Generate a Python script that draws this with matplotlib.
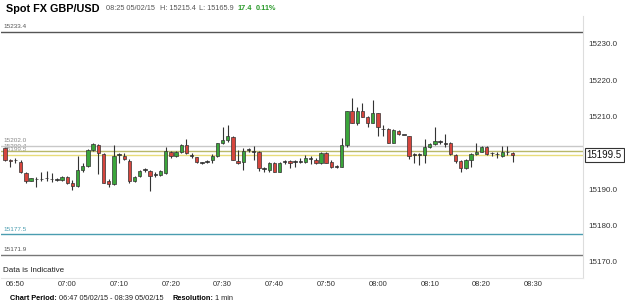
import matplotlib
matplotlib.use("Agg")
import matplotlib.pyplot as plt
import numpy as np

plt.rcParams["font.family"] = ["Liberation Sans", "DejaVu Sans"]

# one-minute candles, first bar at 06:48
start_minute = 6 * 60 + 48
opens = [15201.2, 15197.9, 15197.9, 15197.6, 15194.4, 15192.3, 15192.7, 15192.7, 15193.0, 15192.7,
         15192.5, 15192.5, 15193.3, 15191.8, 15190.9, 15195.3, 15196.4, 15200.8, 15202.1, 15199.6,
         15192.1, 15191.3, 15199.4, 15199.1, 15197.8, 15192.3, 15193.6, 15195.3, 15195.0, 15193.9,
         15193.9, 15194.4, 15200.3, 15199.2, 15200.2, 15202.2, 15199.2, 15198.8, 15197.3, 15197.6,
         15197.9, 15199.2, 15202.6, 15203.4, 15204.3, 15197.8, 15197.6, 15200.8, 15200.3, 15200.3,
         15195.6, 15195.3, 15197.3, 15194.8, 15197.6, 15197.8, 15197.6, 15197.6, 15197.6, 15198.3,
         15198.0, 15197.1, 15199.9, 15197.6, 15196.2, 15196.2, 15202.2, 15211.6, 15208.1, 15211.4,
         15210.0, 15208.3, 15211.1, 15206.5, 15206.5, 15202.8, 15206.1, 15204.9, 15204.5, 15199.4,
         15199.4, 15199.4, 15201.5, 15202.4, 15203.1, 15202.4, 15202.6, 15199.4, 15197.8, 15195.7,
         15197.9, 15199.7, 15200.3, 15201.5, 15199.9, 15199.6, 15199.1, 15200.1, 15199.9]
highs = [15201.3, 15198.2, 15198.5, 15197.9, 15194.8, 15193.1, 15193.2, 15194.8, 15195.1, 15194.4,
         15193.0, 15193.6, 15193.5, 15192.5, 15199.0, 15197.1, 15201.0, 15202.8, 15202.3, 15199.9,
         15192.7, 15202.2, 15199.9, 15199.9, 15198.2, 15193.6, 15195.3, 15195.7, 15195.3, 15194.6,
         15195.3, 15201.7, 15200.5, 15200.5, 15202.4, 15203.7, 15199.9, 15198.9, 15197.6, 15198.0,
         15199.6, 15202.8, 15207.2, 15207.7, 15204.5, 15200.8, 15201.3, 15201.3, 15201.9, 15200.5,
         15196.0, 15197.6, 15197.6, 15197.6, 15197.9, 15198.0, 15197.9, 15198.5, 15199.4, 15199.1,
         15198.5, 15200.3, 15200.3, 15198.0, 15196.7, 15204.0, 15211.6, 15215.0, 15212.7, 15213.7,
         15210.2, 15214.6, 15211.1, 15207.7, 15206.8, 15206.5, 15206.3, 15205.0, 15204.7, 15199.9,
         15199.9, 15203.7, 15202.8, 15207.2, 15203.5, 15205.2, 15203.1, 15199.6, 15198.0, 15198.2,
         15199.9, 15202.6, 15201.9, 15201.9, 15200.1, 15200.1, 15201.9, 15201.9, 15200.1]
lows = [15197.8, 15196.2, 15197.1, 15194.4, 15191.6, 15192.2, 15190.5, 15192.1, 15192.1, 15191.9,
        15192.1, 15192.3, 15191.4, 15189.8, 15190.7, 15194.8, 15196.2, 15200.6, 15194.2, 15191.6,
        15190.7, 15191.2, 15197.1, 15198.0, 15191.8, 15192.0, 15193.4, 15194.8, 15189.5, 15193.3,
        15193.7, 15194.1, 15198.5, 15198.9, 15199.9, 15199.6, 15198.7, 15197.2, 15196.8, 15197.1,
        15197.1, 15198.9, 15202.4, 15203.1, 15197.9, 15196.8, 15195.3, 15200.3, 15198.0, 15195.0,
        15194.8, 15194.8, 15194.6, 15194.6, 15196.9, 15195.7, 15196.0, 15197.1, 15197.3, 15196.9,
        15196.9, 15196.9, 15197.1, 15195.7, 15195.7, 15196.0, 15201.7, 15208.1, 15207.7, 15209.8,
        15207.2, 15208.1, 15204.7, 15204.7, 15202.6, 15202.6, 15204.9, 15204.8, 15198.2, 15197.1,
        15196.7, 15197.3, 15201.3, 15202.2, 15202.4, 15201.7, 15199.4, 15197.3, 15194.8, 15195.5,
        15196.2, 15199.4, 15200.1, 15199.4, 15199.1, 15198.5, 15198.9, 15199.4, 15197.6]
closes = [15198.0, 15197.8, 15197.9, 15194.6, 15192.3, 15193.0, 15192.7, 15192.7, 15193.0, 15192.7,
          15192.5, 15193.3, 15191.6, 15190.9, 15195.3, 15196.4, 15200.8, 15202.4, 15199.9, 15191.8,
          15191.4, 15199.0, 15199.4, 15198.2, 15192.1, 15193.4, 15195.0, 15195.3, 15193.6, 15193.9,
          15195.0, 15200.5, 15199.2, 15200.2, 15202.2, 15199.9, 15199.2, 15197.4, 15197.3, 15197.6,
          15199.2, 15202.6, 15203.4, 15204.5, 15198.0, 15197.1, 15200.5, 15200.8, 15200.3, 15195.7,
          15195.6, 15197.3, 15194.8, 15197.3, 15197.6, 15197.1, 15197.6, 15197.6, 15198.5, 15198.3,
          15197.1, 15199.9, 15197.3, 15196.0, 15196.2, 15202.2, 15211.4, 15208.3, 15211.4, 15210.0,
          15208.3, 15211.1, 15207.2, 15206.5, 15202.8, 15206.3, 15205.2, 15204.9, 15199.1, 15199.4,
          15199.4, 15201.5, 15202.4, 15203.3, 15203.1, 15202.4, 15199.6, 15197.8, 15195.7, 15197.9,
          15199.7, 15200.3, 15201.7, 15199.6, 15199.9, 15199.6, 15200.3, 15200.1, 15199.5]

# reference levels drawn across the chart
level_values = [15233.4, 15202.0, 15200.4, 15199.5, 15177.5, 15171.9]
level_colors = ["#555555", "#c8c8c8", "#b8b86a", "#e8dc7a", "#4a9db0", "#777777"]
level_text_colors = ["#555555", "#888888", "#888888", "#999999", "#4a9db0", "#555555"]

y_ticks = [15170.0, 15180.0, 15190.0, 15210.0, 15220.0, 15230.0]
x_tick_labels = ["06:50", "07:00", "07:10", "07:20", "07:30", "07:40", "07:50",
                 "08:00", "08:10", "08:20", "08:30"]
last_price = 15199.5

W, H = 625, 306


def px(x, y):
    return x / W, 1 - y / H


fig = plt.figure(figsize=(W / 100, H / 100), dpi=100)
ax = fig.add_axes([1 / W, (H - 278) / H, 582 / W, (278 - 16) / H])

t = np.arange(len(opens)) + start_minute
o = np.array(opens)
c = np.array(closes)
up = c > o
flat = c == o
body_col = np.where(up, "#3aa53a", "#d6453d")
body_col = np.where(flat, "#222222", body_col)
bottoms = np.minimum(o, c)
heights = np.maximum(np.abs(c - o), 0.18)

ax.vlines(t, lows, highs, color="#333333", lw=0.8, zorder=3)
ax.bar(t, heights, bottom=bottoms, width=0.65, color=body_col,
       edgecolor="#333333", linewidth=0.5, zorder=4)

for v, col, tc in zip(level_values, level_colors, level_text_colors):
    ax.axhline(v, color=col, lw=1.0, zorder=2)
    ax.text(407.6, v + 0.7, f"{v:.1f}", fontsize=4.6, color=tc, va="bottom", zorder=1)

ax.text(407.6, 15167.2, "Data is Indicative", fontsize=5.8, color="#222222")

ax.set_xlim(407.2, 519.6)
ax.set_ylim(15165.5, 15237.7)

ax.yaxis.tick_right()
ax.set_yticks(y_ticks)
ax.set_yticklabels([f"{v:.1f}" for v in y_ticks], fontsize=5.8, color="#333333")
ax.tick_params(axis="y", length=0, pad=4)

x_ticks = [int(s[:2]) * 60 + int(s[3:]) for s in x_tick_labels]
ax.set_xticks(x_ticks)
ax.set_xticklabels(x_tick_labels, fontsize=5.5, color="#333333")
ax.tick_params(axis="x", length=0, pad=2)

for side in ["top", "left"]:
    ax.spines[side].set_visible(False)
ax.spines["right"].set_color("#dddddd")
ax.spines["bottom"].set_color("#e6e6e6")

ax.text(1.006, last_price, f"{last_price:.1f}", transform=ax.get_yaxis_transform(),
        fontsize=7, va="center", ha="left", color="#111111",
        bbox=dict(boxstyle="square,pad=0.2", fc="white", ec="#333333", lw=0.8))

renderer = fig.canvas.get_renderer()


def text_row(x, y, parts):
    # place pieces of text one after another on a line
    for s, kw, gap in parts:
        txt = fig.text(*px(x, y), s, va="center", **kw)
        x += txt.get_window_extent(renderer).width + gap


# header
small = dict(fontsize=5.3, color="#555555")
green = dict(fontsize=5.3, color="#2a9a2a", fontweight="bold")
text_row(6, 9, [
    ("Spot FX GBP/USD", dict(fontsize=7.8, fontweight="bold"), 6),
    ("08:25 05/02/15", small, 6),
    ("H: 15215.4", small, 3),
    ("L: 15165.9", small, 4),
    ("17.4", green, 3),
    ("0.11%", green, 0),
])

# footer
foot = dict(fontsize=5.3, color="#222222")
foot_b = dict(fontsize=5.3, fontweight="bold")
text_row(10, 298, [
    ("Chart Period:", foot_b, 2),
    ("06:47 05/02/15 - 08:39 05/02/15", foot, 9),
    ("Resolution:", foot_b, 2),
    ("1 min", foot, 0),
])

fig.savefig("out.png", dpi=100)
